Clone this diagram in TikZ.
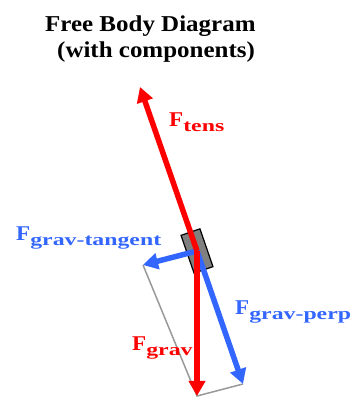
\documentclass[tikz,border=0pt]{standalone}
\usepackage{fontspec}
\setmainfont{Liberation Serif}
\usetikzlibrary{arrows.meta,positioning,calc}
\definecolor{forcered}{RGB}{255,0,0}
\definecolor{forceblue}{RGB}{51,102,255}
\definecolor{bobgray}{RGB}{128,128,128}
\newcommand{\forcename}[1]{\bfseries{\fontsize{21}{21}\selectfont\scalebox{1.1}[1]{F}}\raisebox{-5pt}{\fontsize{17}{17}\selectfont\scalebox{1.4}[1]{#1}}}

\begin{document}
\begin{tikzpicture}[x=1pt,y=1pt,
    force/.style={line width=5.5pt, -{Triangle[length=15pt,width=16pt]}},
    comp/.style={gray!80, line width=1.5pt},
    lbl/.style={anchor=base west, inner sep=0pt}]
    \useasboundingbox (0,0) rectangle (361,403);
    % Title
    \node[lbl] (title) at (45,371) {\fontsize{22.7}{24}\selectfont\bfseries\scalebox{1.1}[1]{Free Body Diagram}};
    \node[lbl] (subtitle) at (57,345) {\fontsize{22.7}{24}\selectfont\bfseries\scalebox{1.1}[1]{(with components)}};
    % Pendulum bob
    \node[draw=black, fill=bobgray, line width=1.2pt, minimum width=20pt, minimum height=40pt, rotate=19] (bob) at (197,152) {};
    % Arrow tips
    \coordinate (tens) at (140,316);
    \coordinate (grav) at (197,7);
    \coordinate (perp) at (243,19);
    \coordinate (tangent) at (143,138);
    % Parallelogram
    \draw[comp] (tangent) -- (grav) -- (perp);
    % Components
    \draw[force, forceblue] (bob.center) -- (perp);
    \draw[force, forceblue] (bob.center) -- (tangent);
    % Tension and gravity
    \draw[force, forcered] (bob.center) -- (tens);
    \draw[force, forcered] (bob.center) -- (grav);
    % Labels
    \node[lbl, text=forcered] (tenslbl) at (169,276) {\forcename{tens}};
    \node[lbl, text=forceblue] (tangentlbl) at (16,162) {\forcename{grav-tangent}};
    \node[lbl, text=forceblue] (perplbl) at (235,88) {\forcename{grav-perp}};
    \node[lbl, text=forcered] (gravlbl) at (132,52) {\forcename{grav}};
\end{tikzpicture}
\end{document}
